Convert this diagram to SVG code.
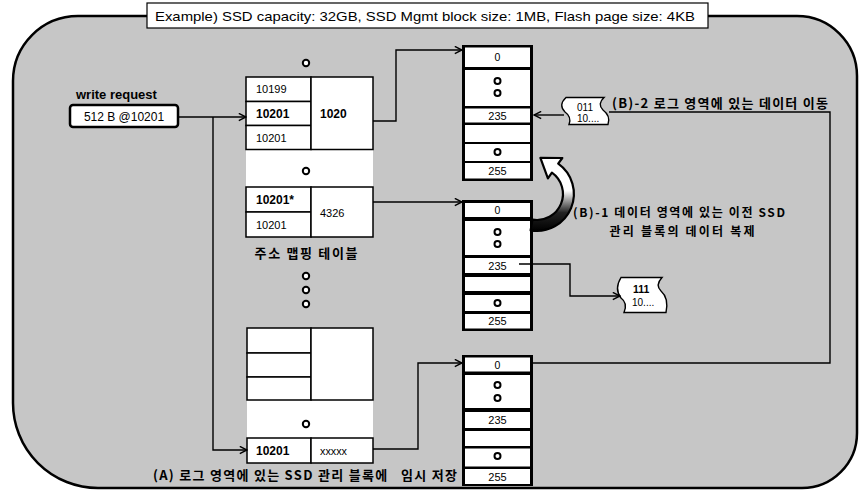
<svg xmlns="http://www.w3.org/2000/svg" width="862" height="490" viewBox="0 0 862 490">
<style>
.t{font-family:"Liberation Sans","Noto Sans CJK KR",sans-serif;fill:#000}
.k{font-family:"Noto Sans CJK KR","Liberation Sans",sans-serif;font-weight:bold;fill:#000}
.b{font-weight:bold}
.cell{fill:#fff;stroke:#000;stroke-width:1.5}
.blk{fill:#000}
.wc{fill:#fff}
.dot{fill:#fff;stroke:#000;stroke-width:2}
.ln{fill:none;stroke:#000;stroke-width:1.4}
.arr{fill:none;stroke:#000;stroke-width:1.4;marker-end:url(#ah)}
</style>
<defs>
<marker id="ah" viewBox="0 0 10 10" refX="9" refY="5" markerWidth="9" markerHeight="9" markerUnits="userSpaceOnUse" orient="auto">
<path d="M1 1 L9 5 L1 9" fill="none" stroke="#000" stroke-width="1.6"/>
</marker>
<linearGradient id="cg" x1="0" y1="0" x2="0" y2="1">
<stop offset="0" stop-color="#fff"/>
<stop offset="0.45" stop-color="#fff"/>
<stop offset="0.75" stop-color="#222"/>
<stop offset="1" stop-color="#000"/>
</linearGradient>
</defs>

<g id="frame">
<path d="M78 16 L797 16 A60 60 0 0 1 857 76 L857 433 A55 55 0 0 1 802 488 L98 488 A85 85 0 0 1 13 403 L13 81 A65 65 0 0 1 78 16 Z" fill="#c6c6c6" stroke="#000" stroke-width="2.5"/>
</g>

<g id="title">
<rect x="147" y="3" width="561" height="25" fill="#fff" stroke="#000" stroke-width="1.2"/>
<text class="t" x="155" y="20.5" font-size="13.5" textLength="540" lengthAdjust="spacingAndGlyphs">Example) SSD capacity: 32GB, SSD Mgmt block size: 1MB, Flash page size: 4KB</text>
</g>

<g id="write-request">
<text class="t b" x="76" y="99" font-size="13">write request</text>
<rect x="70" y="105" width="108" height="22" rx="3" fill="#fff" stroke="#000" stroke-width="2.5"/>
<text class="t" x="124" y="120.5" font-size="12" text-anchor="middle">512 B @10201</text>
</g>

<g id="mapping-table">
<circle class="dot" cx="306" cy="63" r="3.2"/>
<rect x="246" y="149" width="127" height="39" fill="#fff"/>
<rect x="247" y="328" width="126" height="135" fill="#fff"/>
<g id="entry-1020">
<rect class="cell" x="246" y="77" width="65" height="24.5"/>
<rect class="cell" x="246" y="101.5" width="65" height="24"/>
<rect class="cell" x="246" y="125.5" width="65" height="24"/>
<rect class="cell" x="311" y="77" width="62" height="72.5"/>
<text class="t" x="256" y="93" font-size="11">10199</text>
<text class="t b" x="256" y="117.5" font-size="12">10201</text>
<text class="t" x="256" y="142" font-size="11">10201</text>
<text class="t b" x="320" y="117.5" font-size="12">1020</text>
</g>
<circle class="dot" cx="306" cy="171" r="3.2"/>
<g id="entry-4326">
<rect class="cell" x="246" y="187" width="65" height="25"/>
<rect class="cell" x="246" y="212" width="65" height="25"/>
<rect class="cell" x="311" y="187" width="62" height="50"/>
<text class="t b" x="256" y="204" font-size="12">10201*</text>
<text class="t" x="256" y="228.5" font-size="11">10201</text>
<text class="t" x="320" y="216.5" font-size="11">4326</text>
</g>
<text class="k" x="306" y="258" font-size="13" text-anchor="middle" textLength="103">주소 맵핑 테이블</text>
<circle class="dot" cx="306" cy="276" r="3.2"/>
<circle class="dot" cx="306" cy="290" r="3.2"/>
<circle class="dot" cx="306" cy="304" r="3.2"/>
<g id="entry-empty">
<rect class="cell" x="247" y="328" width="64" height="25"/>
<rect class="cell" x="247" y="353" width="64" height="24"/>
<rect class="cell" x="247" y="377" width="64" height="23"/>
<rect class="cell" x="311" y="328" width="62" height="72"/>
</g>
<circle class="dot" cx="306" cy="424" r="3.2"/>
<g id="entry-log">
<rect class="cell" x="247" y="438" width="64" height="25"/>
<rect class="cell" x="311" y="438" width="62" height="25"/>
<text class="t b" x="256" y="455" font-size="12">10201</text>
<text class="t" x="320" y="454.5" font-size="10" textLength="27" lengthAdjust="spacingAndGlyphs">xxxxx</text>
</g>
</g>

<g id="block-1">
<rect class="blk" x="462" y="45" width="71" height="136"/>
<rect class="wc" x="465" y="47.5" width="65" height="19.5"/>
<rect class="wc" x="465" y="70" width="65" height="36"/>
<rect class="wc" x="465" y="108.5" width="65" height="14"/>
<rect class="wc" x="465" y="125" width="65" height="17"/>
<rect class="wc" x="465" y="144" width="65" height="17"/>
<rect class="wc" x="465" y="163" width="65" height="15.5"/>
<text class="t" x="497.5" y="61" font-size="10.5" text-anchor="middle">0</text>
<circle class="dot" cx="497.5" cy="81" r="3"/>
<circle class="dot" cx="497.5" cy="93" r="3"/>
<text class="t" x="497.5" y="119.5" font-size="11" text-anchor="middle">235</text>
<circle class="dot" cx="497.5" cy="152" r="3"/>
<text class="t" x="497.5" y="175" font-size="11" text-anchor="middle">255</text>
</g>

<g id="block-2">
<rect class="blk" x="462" y="200" width="71" height="131"/>
<rect class="wc" x="465" y="203" width="65" height="14"/>
<rect class="wc" x="465" y="221" width="65" height="34"/>
<rect class="wc" x="465" y="258" width="65" height="15"/>
<rect class="wc" x="465" y="277" width="65" height="14"/>
<rect class="wc" x="465" y="295" width="65" height="16"/>
<rect class="wc" x="465" y="314" width="65" height="14.5"/>
<text class="t" x="497.5" y="214" font-size="10.5" text-anchor="middle">0</text>
<circle class="dot" cx="497.5" cy="232" r="3"/>
<circle class="dot" cx="497.5" cy="244" r="3"/>
<text class="t" x="497.5" y="269.5" font-size="11" text-anchor="middle">235</text>
<circle class="dot" cx="497.5" cy="303" r="3"/>
<text class="t" x="497.5" y="325" font-size="11" text-anchor="middle">255</text>
</g>

<g id="block-3">
<rect class="blk" x="462" y="355" width="71" height="131"/>
<rect class="wc" x="465" y="357.5" width="65" height="14"/>
<rect class="wc" x="465" y="375" width="65" height="33"/>
<rect class="wc" x="465" y="412" width="65" height="16"/>
<rect class="wc" x="465" y="431" width="65" height="15"/>
<rect class="wc" x="465" y="448.5" width="65" height="18"/>
<rect class="wc" x="465" y="469" width="65" height="15"/>
<text class="t" x="497.5" y="368.5" font-size="10.5" text-anchor="middle">0</text>
<circle class="dot" cx="497.5" cy="385" r="3"/>
<circle class="dot" cx="497.5" cy="398" r="3"/>
<text class="t" x="497.5" y="424" font-size="11" text-anchor="middle">235</text>
<circle class="dot" cx="497.5" cy="456" r="3"/>
<text class="t" x="497.5" y="480.5" font-size="11" text-anchor="middle">255</text>
</g>

<g id="data-011">
<path d="M566 97.5 L604 97.5 Q597 104 603 110 Q611 116 608 124.5 L569 124.5 Q572 117 565 112 Q558 105 566 97.5 Z" fill="#fff" stroke="#000" stroke-width="1.4"/>
<text class="t" x="577" y="111" font-size="10">011</text>
<text class="t" x="577" y="122" font-size="10">10....</text>
</g>

<g id="data-111">
<path d="M621 277.5 L662 277.5 Q655 285 661 291 Q669 298 666 312.5 L624 312.5 Q628 303 621 298 Q614 289 621 277.5 Z" fill="#fff" stroke="#000" stroke-width="1.4"/>
<text class="t b" x="633" y="293" font-size="10.5">111</text>
<text class="t" x="632" y="306" font-size="10">10....</text>
</g>

<g id="labels">
<text class="k" x="612" y="108" font-size="13" textLength="216">(B)-2 로그 영역에 있는 데이터 이동</text>
<text class="k" x="679" y="217" font-size="12" text-anchor="middle" textLength="212">(B)-1 데이터 영역에 있는 이전 SSD</text>
<text class="k" x="682" y="236" font-size="12" text-anchor="middle" textLength="145">관리 블록의 데이터 복제</text>
<text class="k" x="153" y="480" font-size="13" textLength="304" style="white-space:pre">(A) 로그 영역에 있는 SSD 관리 블록에   임시 저장</text>
</g>

<g id="connectors">
<path class="arr" d="M178 117 L246 117"/>
<path class="arr" d="M213 117 L213 450 L247 450"/>
<path class="arr" d="M373 121 L396 121 L396 50 L462 50"/>
<path class="arr" d="M373 202 L462 202"/>
<path class="arr" d="M373 449 L418 449 L418 363 L462 363"/>
<path class="ln" d="M533 363 L830 363 L830 112 L609 112"/>
<path class="arr" d="M564 115 L534 115"/>
<path class="arr" d="M519 264 L570 264 L570 296 L620 296"/>
<path d="M530.6 230.4 A37 37 0 0 0 558.2 163.7 L562.3 158 L540.4 157.9 L547.9 178.4 L551.9 172.7 A26 26 0 0 1 532.5 219.6 Z" fill="url(#cg)" stroke="#000" stroke-width="2.2" stroke-linejoin="round"/>
</g>
</svg>
